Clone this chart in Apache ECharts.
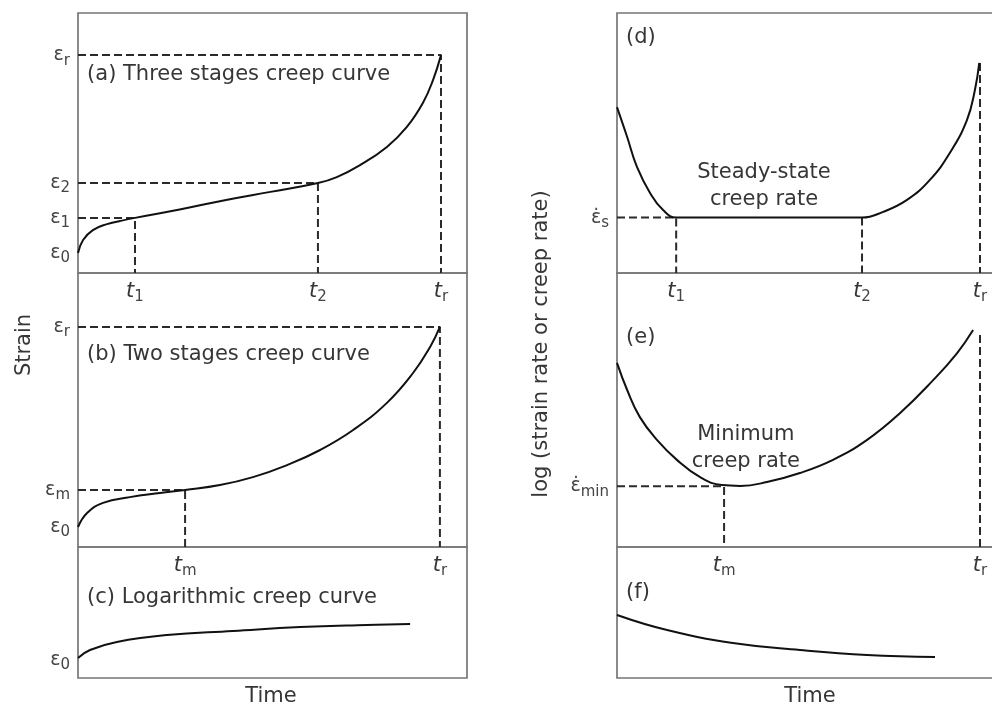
<!DOCTYPE html>
<html>
<head>
<meta charset="utf-8">
<script src="https://cdn.jsdelivr.net/npm/echarts@6/dist/echarts.min.js"></script>
<style>
  html, body { margin: 0; background: #fff; }
  #chart { width: 992px; height: 708px; }
</style>
</head>
<body>
<div id="chart"></div>
<script>
// time: t_r = 100 ; vertical values: % of each panel's height
const aCurve = [[0, 7.7], [1.4, 12.7], [4.1, 16.5], [8.0, 18.8], [11.6, 20.0], [15.7, 21.2], [28, 24.4], [40.8, 28.1], [53, 31.2], [66.1, 34.6],
  [71.3, 36.9], [77.7, 41.5], [85.1, 48.5], [90.6, 56.2], [95.0, 65.4], [97.8, 74.2], [100, 83.8]];
const bCurve = [[0, 7.3], [2.5, 12.4], [6.9, 16.1], [14.3, 18.2], [22.6, 19.7], [29.5, 20.8], [39.1, 22.6], [48.2, 25.5], [57.6, 29.9],
  [66.7, 35.4], [75.8, 42.7], [85.1, 52.6], [92.3, 63.5], [97.0, 73.0], [99.7, 80.3]];
const cCurve = [[0, 15.3], [3.3, 21.4], [10.7, 27.5], [24.5, 32.8], [42.7, 35.9], [61.2, 38.9], [79.6, 40.5], [91.5, 41.2]];
const dCurve = [[0, 63.8], [2.8, 52.3], [5.5, 40.8], [9.1, 30.8], [12.7, 24.2], [16.3, 21.3], [20, 21.3], [30, 21.3], [45, 21.3], [60, 21.3],
  [67.5, 21.3], [73.3, 23.5], [79.9, 28.1], [86.2, 35.8], [91.7, 46.2], [96.4, 58.8], [98.6, 70.4], [99.8, 80.8]];
const eCurve = [[0, 67.2], [2.8, 57.3], [6.3, 47.4], [11.0, 39.1], [16.5, 31.8], [22.9, 25.5], [28.9, 22.6], [33.9, 22.3], [41.3, 23.7],
  [50.4, 27.0], [59.5, 31.8], [68.9, 39.1], [78.0, 48.9], [87.1, 60.9], [93.7, 70.8], [98.1, 79.2]];
const fCurve = [[0, 48.1], [13.8, 36.6], [31.9, 26.7], [50.4, 21.4], [68.9, 17.6], [87.6, 16.0]];

// marked times and levels
const aTimes = [15.7, 66.1, 100], aTimeNames = ['1', '2', 'r'];
const aLevels = [7.7, 21.2, 34.6, 83.8], aLevelNames = ['0', '1', '2', 'r'];
const bTimes = [29.5, 99.7], bTimeNames = ['m', 'r'];
const bLevels = [7.3, 20.8, 80.3], bLevelNames = ['0', 'm', 'r'];
const cLevels = [14], cLevelNames = ['0'];
const dTimes = [16.3, 67.5, 100], dTimeNames = ['1', '2', 'r'];
const dLevels = [21.3], dLevelNames = ['s'];
const dTrTop = 80.8;
const eTimes = [29.5, 100], eTimeNames = ['m', 'r'];
const eLevels = [22.2], eLevelNames = ['min'];
const eTrTop = 77.4;

const FONT = 'DejaVu Sans';
const INK = '#363636';

const grids = [
  { left: 78, top: 13, width: 389, height: 260 },
  { left: 78, top: 273, width: 389, height: 274 },
  { left: 78, top: 547, width: 389, height: 131 },
  { left: 617, top: 13, width: 400, height: 260 },
  { left: 617, top: 273, width: 400, height: 274 },
  { left: 617, top: 547, width: 400, height: 131 }
].map(g => Object.assign(g, { show: true, outerBoundsMode: 'none', containLabel: false,
  borderColor: '#767676', borderWidth: 1.7, backgroundColor: 'transparent' }));

const sub = {
  e: { fontFamily: FONT, fontSize: 19, color: '#444' },
  t: { fontFamily: FONT, fontSize: 21, fontStyle: 'italic', color: INK },
  s: { fontFamily: FONT, fontSize: 15, color: '#444', padding: [11, 0, 0, 0] }
};

function xAx(i, times, names) {
  const xmax = i < 3 ? 389 / 3.63 : 400 / 3.63;
  return {
    gridIndex: i, type: 'value', min: 0, max: xmax,
    axisLine: { show: false }, axisTick: { show: false }, splitLine: { show: false },
    axisLabel: {
      show: !!times, margin: 6, customValues: times || [],
      formatter: v => '{t|t}{s|' + names[times.indexOf(v)] + '}', rich: sub
    }
  };
}
function yAx(i, levels, names, dot) {
  return {
    gridIndex: i, type: 'value', min: 0, max: 100,
    axisLine: { show: false }, axisTick: { show: false }, splitLine: { show: false },
    axisLabel: {
      show: !!levels, margin: 8, customValues: levels || [],
      formatter: v => '{e|' + (dot ? 'ε\u0307' : 'ε') + '}{s|' + names[levels.indexOf(v)] + '}', rich: sub
    }
  };
}

function curve(i, data) {
  return { type: 'line', xAxisIndex: i, yAxisIndex: i, data: data, smooth: 0.45, symbol: 'none',
    lineStyle: { color: '#111', width: 2 }, silent: true, z: 3 };
}
function dash(i, data) {
  return { type: 'line', xAxisIndex: i, yAxisIndex: i, data: data, symbol: 'none',
    lineStyle: { color: '#2a2a2a', width: 2, type: [8, 4] }, silent: true, z: 2 };
}
function note(i, x, y, text, align) {
  return { type: 'scatter', xAxisIndex: i, yAxisIndex: i, data: [[x, y]], symbolSize: 0, silent: true,
    itemStyle: { color: INK, opacity: 1 },
    label: { show: true, position: align === 'center' ? 'inside' : 'right', distance: 0, formatter: text,
      fontFamily: FONT, fontSize: 21, color: INK, opacity: 1, lineHeight: 27, align: align === 'center' ? 'center' : 'left' } };
}

const series = [
  curve(0, aCurve),
  dash(0, [[0, aLevels[1]], [aTimes[0], aLevels[1]], [aTimes[0], 0]]),
  dash(0, [[0, aLevels[2]], [aTimes[1], aLevels[2]], [aTimes[1], 0]]),
  dash(0, [[0, aLevels[3]], [aTimes[2], aLevels[3]], [aTimes[2], 0]]),
  note(0, 2.5, 76.2, '(a) Three stages creep curve'),

  curve(1, bCurve),
  dash(1, [[0, bLevels[1]], [bTimes[0], bLevels[1]], [bTimes[0], 0]]),
  dash(1, [[0, bLevels[2]], [bTimes[1], bLevels[2]], [bTimes[1], 0]]),
  note(1, 2.5, 70.1, '(b) Two stages creep curve'),

  curve(2, cCurve),
  note(2, 2.5, 61.1, '(c) Logarithmic creep curve'),

  curve(3, dCurve),
  dash(3, [[0, dLevels[0]], [dTimes[0], dLevels[0]], [dTimes[0], 0]]),
  dash(3, [[dTimes[1], dLevels[0]], [dTimes[1], 0]]),
  dash(3, [[dTimes[2], dTrTop], [dTimes[2], 0]]),
  note(3, 2.5, 90.4, '(d)'),
  note(3, 40.5, 33.3, 'Steady-state\ncreep rate', 'center'),

  curve(4, eCurve),
  dash(4, [[0, eLevels[0]], [eTimes[0], eLevels[0]], [eTimes[0], 0]]),
  dash(4, [[eTimes[1], eTrTop], [eTimes[1], 0]]),
  note(4, 2.5, 76.6, '(e)'),
  note(4, 35.5, 36.1, 'Minimum\ncreep rate', 'center'),

  curve(5, fCurve),
  note(5, 2.5, 64.9, '(f)')
];

const chart = echarts.init(document.getElementById('chart'));
chart.setOption({
  animation: false,
  backgroundColor: '#fff',
  grid: grids,
  xAxis: [
    xAx(0, aTimes, aTimeNames), xAx(1, bTimes, bTimeNames), xAx(2, null, null),
    xAx(3, dTimes, dTimeNames), xAx(4, eTimes, eTimeNames), xAx(5, null, null)
  ],
  yAxis: [
    yAx(0, aLevels, aLevelNames), yAx(1, bLevels, bLevelNames), yAx(2, cLevels, cLevelNames),
    yAx(3, dLevels, dLevelNames, true), yAx(4, eLevels, eLevelNames, true), yAx(5, null, null)
  ],
  graphic: [
    { type: 'text', x: 25, y: 345, rotation: Math.PI / 2, style: { text: 'Strain', font: '21px "DejaVu Sans"', fill: INK, align: 'center', verticalAlign: 'middle' } },
    { type: 'text', x: 542, y: 344, rotation: Math.PI / 2, style: { text: 'log (strain rate or creep rate)', font: '21px "DejaVu Sans"', fill: INK, align: 'center', verticalAlign: 'middle' } },
    { type: 'text', x: 271, y: 697, style: { text: 'Time', font: '21px "DejaVu Sans"', fill: INK, align: 'center', verticalAlign: 'middle' } },
    { type: 'text', x: 810, y: 697, style: { text: 'Time', font: '21px "DejaVu Sans"', fill: INK, align: 'center', verticalAlign: 'middle' } }
  ],
  series: series
});
</script>
</body>
</html>
